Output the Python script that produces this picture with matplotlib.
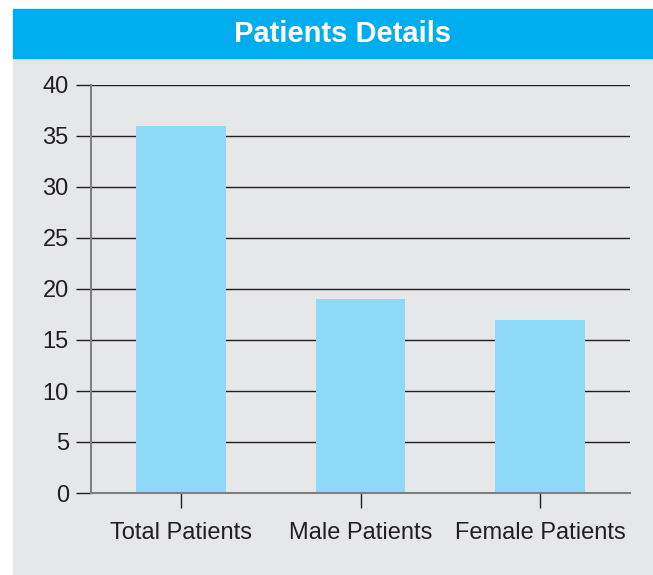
import matplotlib.pyplot as plt
from matplotlib.patches import Rectangle

# données du graphique
categories = ['Total Patients', 'Male Patients', 'Female Patients']
patients = [36, 19, 17]
y_ticks = [0, 5, 10, 15, 20, 25, 30, 35, 40]

W, H = 653, 575
plt.rcParams['font.family'] = ['Liberation Sans', 'DejaVu Sans']

fig = plt.figure(figsize=(W / 100, H / 100), dpi=100)
fig.patch.set_facecolor('white')

# fond gris et bandeau bleu du titre (derrière les axes)
fig.patches.append(Rectangle((13 / W, 1 - 575 / H), 1, (575 - 58) / H,
                             transform=fig.transFigure, color='#e6e7e9', zorder=-2))
fig.patches.append(Rectangle((13 / W, 1 - 58 / H), 1, 49 / H,
                             transform=fig.transFigure, color='#00aeef', zorder=-2))
fig.text(343 / W, 1 - 34 / H, 'Patients Details', color='white', fontsize=21,
         fontweight='bold', ha='center', va='center')

ax = fig.add_axes([91 / W, 1 - 493 / H, (630 - 91) / W, (493 - 85) / H])
ax.set_facecolor('none')

x = range(len(categories))
ax.bar(x, patients, width=0.5, color='#8ed8f8', zorder=2)

ax.set_xlim(-0.5, 2.5)
ax.set_ylim(0, 40)
ax.set_yticks(y_ticks)
ax.set_xticks(list(x))
ax.set_xticklabels(categories)

for y in y_ticks[1:]:
    ax.axhline(y, color='#231f20', lw=1.0, zorder=1)

for side in ['top', 'right']:
    ax.spines[side].set_visible(False)
for side in ['left', 'bottom']:
    ax.spines[side].set_color('#7f7f7f')
    ax.spines[side].set_linewidth(1.5)

ax.tick_params(axis='y', length=11, width=1, color='#231f20', pad=5,
               labelsize=17, labelcolor='#231f20')
ax.tick_params(axis='x', length=11, width=1, color='#231f20', pad=10,
               labelsize=17, labelcolor='#231f20')

fig.savefig('out.png', dpi=100)
